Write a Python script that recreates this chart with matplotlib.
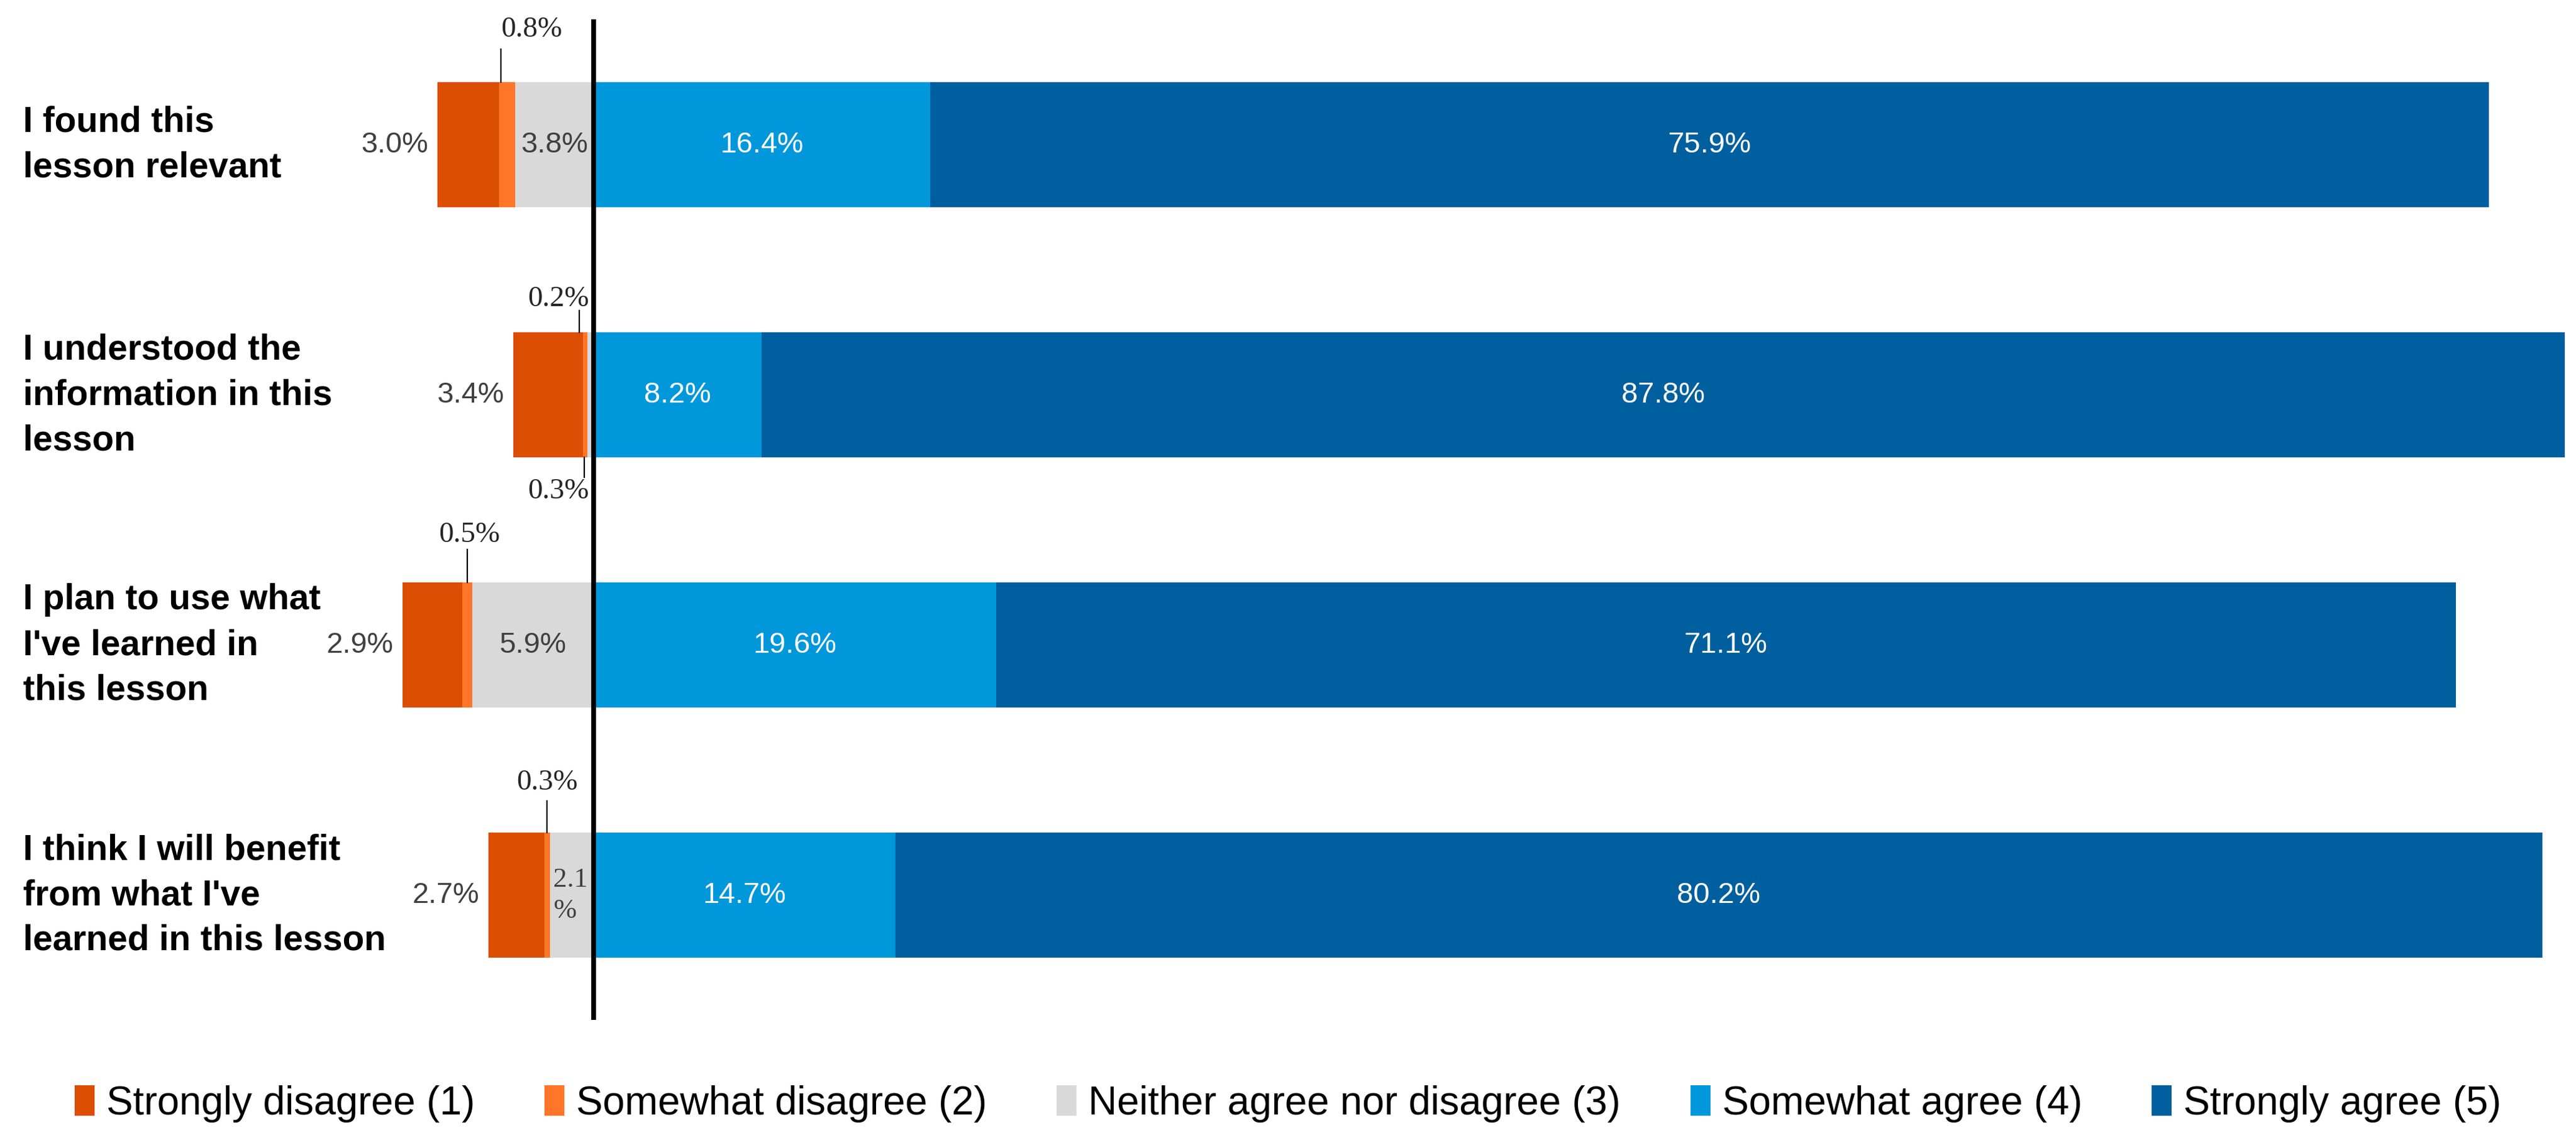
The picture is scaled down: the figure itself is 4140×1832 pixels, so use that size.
import matplotlib
matplotlib.use("Agg")
import matplotlib.pyplot as plt
from matplotlib.patches import Patch
from matplotlib import font_manager

# survey items (top to bottom)
categories = [
    "I found this\nlesson relevant",
    "I understood the\ninformation in this\nlesson",
    "I plan to use what\nI've learned in\nthis lesson",
    "I think I will benefit\nfrom what I've\nlearned in this lesson",
]
strongly_disagree = [3.0, 3.4, 2.9, 2.7]
somewhat_disagree = [0.8, 0.2, 0.5, 0.3]
neutral = [3.8, 0.3, 5.9, 2.1]
somewhat_agree = [16.4, 8.2, 19.6, 14.7]
strongly_agree = [75.9, 87.8, 71.1, 80.2]

legend_labels = ["Strongly disagree (1)", "Somewhat disagree (2)",
                 "Neither agree nor disagree (3)", "Somewhat agree (4)",
                 "Strongly agree (5)"]
colors = ["#DC4E04", "#FF7628", "#D9D9D9", "#0097DB", "#005F9E"]

available = {f.name for f in font_manager.fontManager.ttflist}
narrow = "Liberation Sans Narrow" if "Liberation Sans Narrow" in available else "Liberation Sans"
sans = [narrow, "DejaVu Sans"]
serif = ["Liberation Serif", "DejaVu Serif"]

fig = plt.figure(figsize=(41.4, 18.33), dpi=100)
ax = fig.add_axes([0, 0, 1, 1])
ax.set_xlim(-28.9, 96.55)
ax.set_ylim(3.98, -0.58)
ax.axis("off")

h = 0.5
y = list(range(len(categories)))
for i in y:
    n, sw, sd = neutral[i], somewhat_disagree[i], strongly_disagree[i]
    sa, st = somewhat_agree[i], strongly_agree[i]
    ax.barh(i, sd, left=-(n + sw + sd), height=h, color=colors[0])
    ax.barh(i, sw, left=-(n + sw), height=h, color=colors[1])
    ax.barh(i, n, left=-n, height=h, color=colors[2])
    ax.barh(i, sa, left=0, height=h, color=colors[3])
    ax.barh(i, st, left=sa, height=h, color=colors[4])

    # labels
    ax.text(-(n + sw + sd) - 0.45, i, f"{sd:.1f}%", ha="right", va="center",
            fontsize=34, color="#404040", family=sans)
    ax.text(sa / 2, i, f"{sa:.1f}%", ha="center", va="center",
            fontsize=34, color="white", family=sans)
    ax.text(sa + st / 2, i, f"{st:.1f}%", ha="center", va="center",
            fontsize=34, color="white", family=sans)

    # category label
    ax.text(0.009, i, categories[i], transform=ax.get_yaxis_transform(),
            ha="left", va="center", fontsize=41, fontweight="bold",
            family=sans, linespacing=1.45)

# neutral labels that fit inside the bar
for i in [0, 2]:
    ax.text(-neutral[i] / 2, i, f"{neutral[i]:.1f}%", ha="center", va="center",
            fontsize=34, color="#404040", family=sans)
ax.text(-neutral[3] + 0.15, 3, f"{neutral[3]:.1f}\n%", ha="left", va="center",
        fontsize=32, color="#404040", family=serif, linespacing=1.3)

# callouts for the thin slices: (row, value, x of leader, side, text dx, line len, text dist)
callouts = [
    (0, somewhat_disagree[0], -(neutral[0] + somewhat_disagree[0] / 2 + 0.3), -1, 1.5, 0.13, 0.21),
    (1, somewhat_disagree[1], -(neutral[1] + somewhat_disagree[1] / 2 + 0.3), -1, -1.0, 0.085, 0.135),
    (1, neutral[1], -neutral[1] / 2 - 0.3, 1, -1.25, 0.08, 0.135),
    (2, somewhat_disagree[2], -(neutral[2] + somewhat_disagree[2] / 2), -1, 0.1, 0.13, 0.19),
    (3, somewhat_disagree[3], -(neutral[3] + somewhat_disagree[3] / 2), -1, 0.0, 0.125, 0.2),
]
for row, val, lx, side, dx, ll, td in callouts:
    edge = row + side * h / 2
    ax.plot([lx, lx], [edge, edge + side * ll], color="black", lw=1.6)
    ax.text(lx + dx, edge + side * td, f"{val:.1f}%", ha="center",
            va="center", fontsize=34, color="#262626", family=serif)

# zero line
ax.plot([0, 0], [-0.5, 3.5], color="black", lw=5.5, solid_capstyle="butt")

handles = [Patch(facecolor=c, edgecolor="none") for c in colors]
fig.legend(handles, legend_labels, loc="center", bbox_to_anchor=(0.5, 0.032),
           ncol=5, frameon=False, handlelength=0.5, handleheight=0.8,
           handletextpad=0.3, columnspacing=1.75,
           prop={"family": sans, "size": 46})

fig.savefig("out.png", dpi=100)
